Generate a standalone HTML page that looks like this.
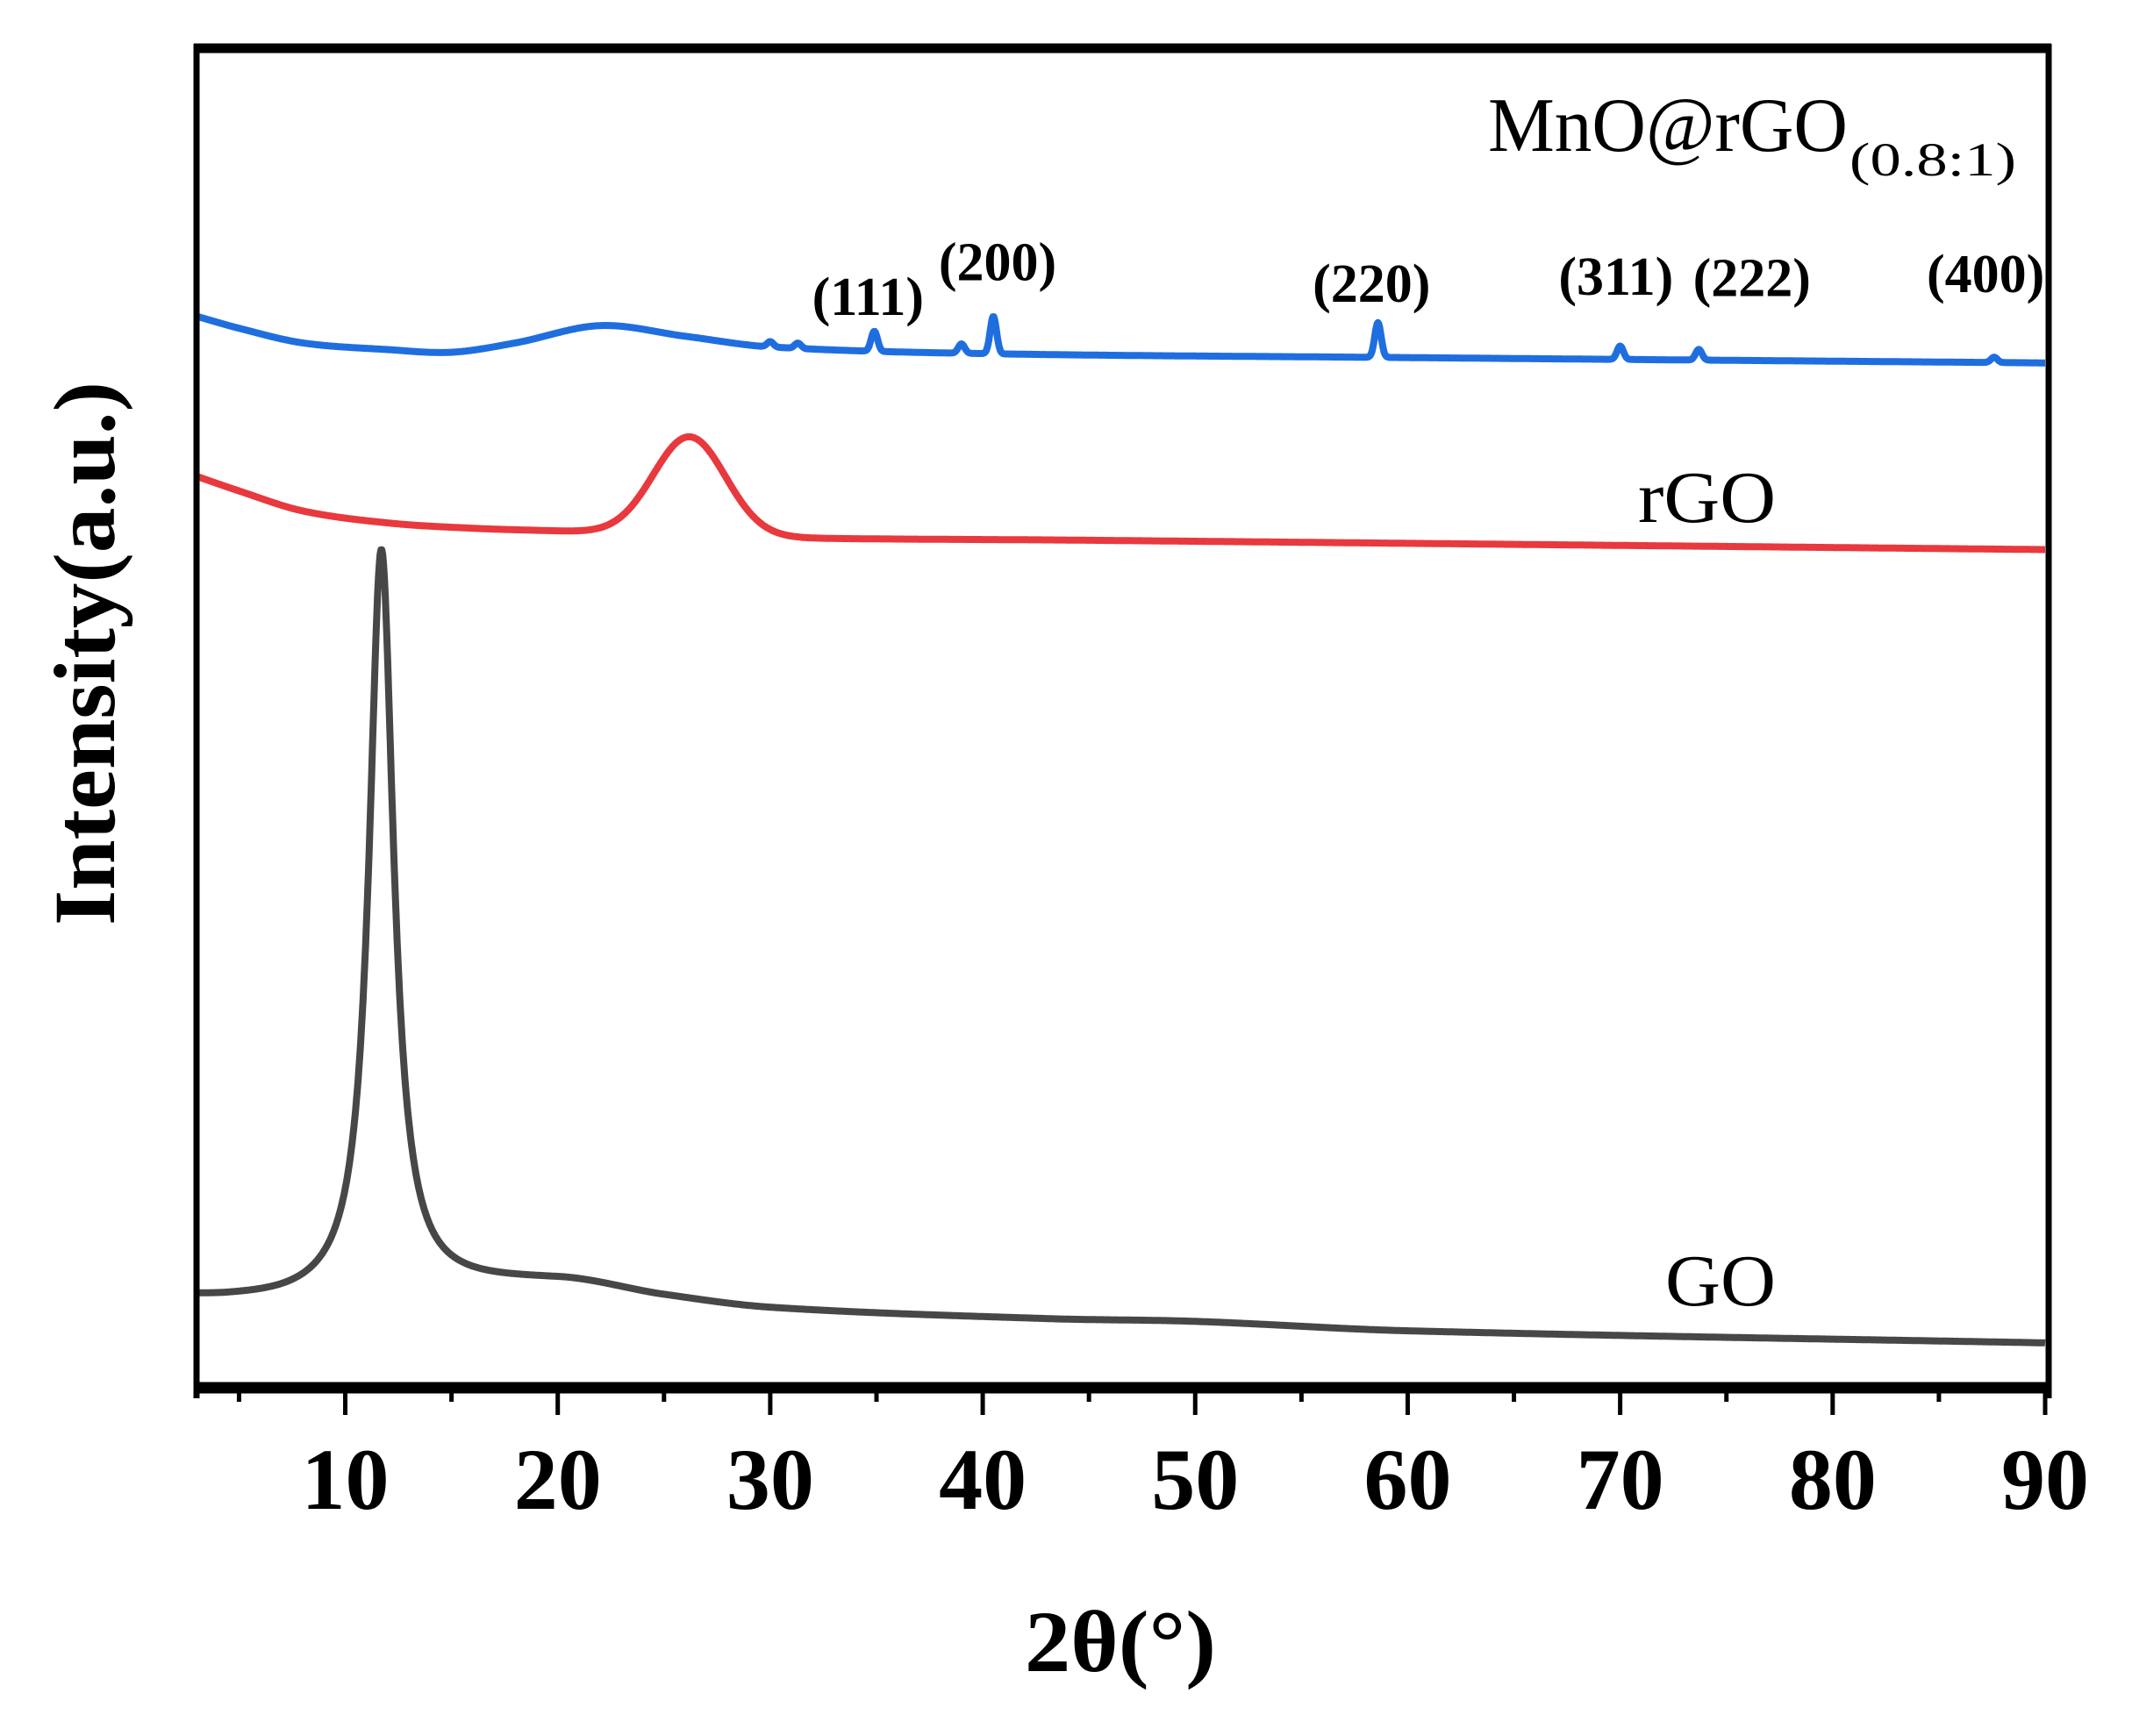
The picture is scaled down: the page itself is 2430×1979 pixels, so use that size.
<!DOCTYPE html>
<html><head><meta charset="utf-8"><style>
html,body{margin:0;padding:0;background:#fff;}
svg{display:block;}
</style></head><body>
<svg id="chart" width="2430" height="1979" viewBox="0 0 2430 1979" xmlns="http://www.w3.org/2000/svg">
<rect width="2430" height="1979" fill="#fff"/>
<g id="curves"></g>
<g id="axes"></g>
<g font-family="'Liberation Serif', serif" fill="#000">
  <text x="1696" y="172" font-size="88" textLength="410" lengthAdjust="spacingAndGlyphs">MnO@rGO</text>
  <text x="2108" y="200" font-size="54" textLength="190" lengthAdjust="spacingAndGlyphs">(0.8:1)</text>
  <text x="1867" y="595" font-size="84" textLength="157" lengthAdjust="spacingAndGlyphs">rGO</text>
  <text x="1898" y="1488" font-size="84" textLength="126" lengthAdjust="spacingAndGlyphs">GO</text>
  <text transform="translate(130,745) rotate(-90)" text-anchor="middle" font-size="100" font-weight="bold" textLength="620" lengthAdjust="spacingAndGlyphs">Intensity(a.u.)</text>
  <text x="1277" y="1905" text-anchor="middle" font-size="100" font-weight="bold" textLength="218" lengthAdjust="spacingAndGlyphs">2θ(°)</text>
</g>
<g id="hkl" font-family="'Liberation Serif', serif" font-weight="bold" font-size="62" text-anchor="middle"></g>
</svg>
<script>
// ---- data ----
const xTicks = [10,20,30,40,50,60,70,80,90];
const xMinorTicks = [5,15,25,35,45,55,65,75,85];
// background readings (2θ, intensity)
const mnoBgX = [3,5,8,12,15,18,22,26,30,40,60,90];
const mnoBgY = [79.9,79.0,77.9,77.4,77.2,77.9,79.2,78.4,77.6,77.1,76.8,76.4];
const mnoPeakPos = [30.0,31.3,34.9,39.0,40.5,58.6,70.0,73.7,87.6];
const mnoPeakH = [0.4,0.4,1.5,0.7,2.8,2.6,1.0,0.8,0.4];
const rgoBgX = [3,5,8,12,16,20,30,45,90];
const rgoBgY = [67.9,66.8,65.3,64.4,64.0,63.8,63.3,63.1,62.4];
const rgoPeakPos = [26.2];
const rgoPeakH = [7.4];
const goBgX = [3,4.5,8,20,25,30,43,50,60,90];
const goBgY = [6.3,6.2,6.2,7.5,6.4,5.5,4.7,4.5,3.8,2.9];
const goPeakPos = [11.7];
const goPeakH = [55.8];
const hklLabels = ['(111)','(200)','(220)','(311)','(222)','(400)'];
const hklPos = [34.6,40.7,58.3,69.8,76.2,87.2];
const hklY = [80.0,82.6,81.0,81.5,81.4,81.7];

// ---- scales ----
const X0=224, X1=2331, Y0=1575, Y1=55;
const xs = v => X0 + (v-3)/(90-3)*(X1-X0);
const ys = v => Y0 - v*(Y0-Y1)/100;
const NS='http://www.w3.org/2000/svg';
function lin(xa,ya,x){
  const n=xa.length;
  for(let i=0;i<n-1;i++){
    if(x<=xa[i+1]){
      const h=xa[i+1]-xa[i], t=(x-xa[i])/h;
      const m0 = i>0 ? (ya[i+1]-ya[i-1])/(xa[i+1]-xa[i-1])*h : (ya[i+1]-ya[i]);
      const m1 = i<n-2 ? (ya[i+2]-ya[i])/(xa[i+2]-xa[i])*h : (ya[i+1]-ya[i]);
      const t2=t*t,t3=t2*t;
      return (2*t3-3*t2+1)*ya[i]+(t3-2*t2+t)*m0+(-2*t3+3*t2)*ya[i+1]+(t3-t2)*m1;
    }
  }
  return ya[n-1];
}
function buildPath(bx,by,pp,ph,shape,w){
  let d='';
  for(let x=3;x<=90.001;x+=0.04){
    let v=lin(bx,by,x);
    for(let i=0;i<pp.length;i++){
      const dx=x-pp[i];
      if(shape==='l') v+=ph[i]/(1+(dx/w)*(dx/w));
      else v+=ph[i]*Math.exp(-dx*dx/(2*w*w));
    }
    d+=(d?'L':'M')+xs(x).toFixed(1)+' '+ys(v).toFixed(1);
  }
  return d;
}
const curves=document.getElementById('curves');
function addPath(d,color,name){
  const p=document.createElementNS(NS,'path');
  p.setAttribute('d',d);p.setAttribute('fill','none');p.setAttribute('stroke',color);
  p.setAttribute('stroke-width','8');p.setAttribute('stroke-linejoin','round');
  
  
  curves.appendChild(p);
}
addPath(buildPath(mnoBgX,mnoBgY,mnoPeakPos,mnoPeakH,'g',0.15),'#1f6ee0','series-mno-rgo');
addPath(buildPath(rgoBgX,rgoBgY,rgoPeakPos,rgoPeakH,'g',1.7),'#e8393e','series-rgo');
addPath(buildPath(goBgX,goBgY,goPeakPos,goPeakH,'l',0.7),'#474747','series-go');

const hkl=document.getElementById('hkl');
hklLabels.forEach((t,i)=>{
  const e=document.createElementNS(NS,'text');
  e.setAttribute('x',xs(hklPos[i]));e.setAttribute('y',ys(hklY[i]));
  e.textContent=t;
  
  
  hkl.appendChild(e);
});

// ---- axes ----
const axes=document.getElementById('axes');
function line(x1,y1,x2,y2,w,name){
  const l=document.createElementNS(NS,'line');
  l.setAttribute('x1',x1);l.setAttribute('y1',y1);l.setAttribute('x2',x2);l.setAttribute('y2',y2);
  l.setAttribute('stroke','#000');l.setAttribute('stroke-width',w);
  
  
  axes.appendChild(l);
}
line(221,55,2338,55,11,'frame-top');
line(224,50,224,1594,7,'frame-left');
line(2335,50,2335,1594,7,'frame-right');
line(221,1582,2338,1582,13,'x-axis-line');
xTicks.forEach(v=>line(xs(v),1585,xs(v),1613,5,'x-major-tick'));
xMinorTicks.forEach(v=>line(xs(v),1585,xs(v),1598,5,'x-minor-tick'));
xTicks.forEach(v=>{
  const t=document.createElementNS(NS,'text');
  t.setAttribute('x',xs(v));t.setAttribute('y',1720);
  t.setAttribute('text-anchor','middle');t.setAttribute('font-family',"'Liberation Serif', serif");
  t.setAttribute('font-weight','bold');t.setAttribute('font-size','100');
  t.textContent=v;
  
  
  axes.appendChild(t);
});
</script>
</body></html>
